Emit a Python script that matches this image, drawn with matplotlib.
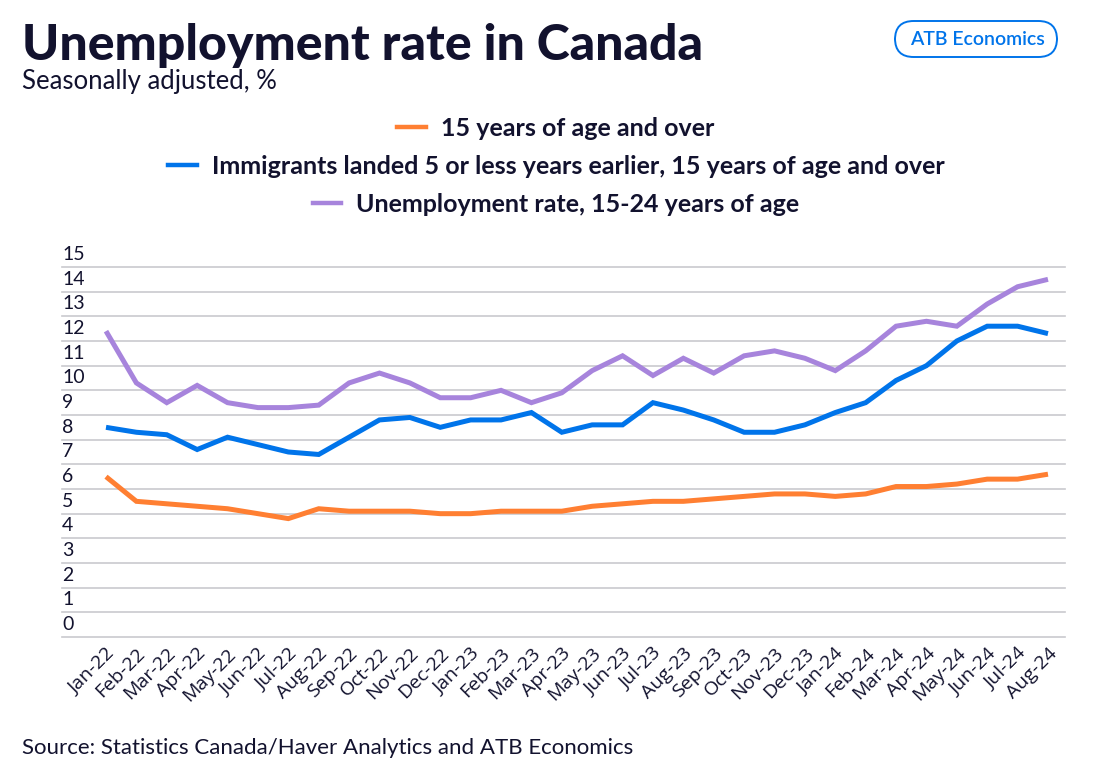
import matplotlib
matplotlib.use("Agg")
import matplotlib.pyplot as plt
import matplotlib.transforms as mtransforms
from matplotlib.lines import Line2D
from matplotlib.patches import FancyBboxPatch
import numpy as np

months = ["Jan-22", "Feb-22", "Mar-22", "Apr-22", "May-22", "Jun-22", "Jul-22", "Aug-22",
          "Sep-22", "Oct-22", "Nov-22", "Dec-22", "Jan-23", "Feb-23", "Mar-23", "Apr-23",
          "May-23", "Jun-23", "Jul-23", "Aug-23", "Sep-23", "Oct-23", "Nov-23", "Dec-23",
          "Jan-24", "Feb-24", "Mar-24", "Apr-24", "May-24", "Jun-24", "Jul-24", "Aug-24"]

all_15plus = [6.5, 5.5, 5.4, 5.3, 5.2, 5.0, 4.8, 5.2, 5.1, 5.1, 5.1, 5.0, 5.0, 5.1, 5.1, 5.1,
              5.3, 5.4, 5.5, 5.5, 5.6, 5.7, 5.8, 5.8, 5.7, 5.8, 6.1, 6.1, 6.2, 6.4, 6.4, 6.6]
immigrants = [8.5, 8.3, 8.2, 7.6, 8.1, 7.8, 7.5, 7.4, 8.1, 8.8, 8.9, 8.5, 8.8, 8.8, 9.1, 8.3,
              8.6, 8.6, 9.5, 9.2, 8.8, 8.3, 8.3, 8.6, 9.1, 9.5, 10.4, 11.0, 12.0, 12.6, 12.6, 12.3]
youth = [12.4, 10.3, 9.5, 10.2, 9.5, 9.3, 9.3, 9.4, 10.3, 10.7, 10.3, 9.7, 9.7, 10.0, 9.5, 9.9,
         10.8, 11.4, 10.6, 11.3, 10.7, 11.4, 11.6, 11.3, 10.8, 11.6, 12.6, 12.8, 12.6, 13.5, 14.2, 14.5]

series_names = ["15 years of age and over",
                "Immigrants landed 5 or less years earlier, 15 years of age and over",
                "Unemployment rate, 15-24 years of age"]
series_colors = ["#FF7F32", "#0074EA", "#A784DC"]
yticks = list(range(0, 16))

NAVY = "#12122e"
GRID = "#c9c9ce"

fig = plt.figure(figsize=(10.96, 7.75), dpi=100)
fig.patch.set_facecolor("white")

ax = fig.add_axes([62 / 1096, 1 - 637 / 775, (1065 - 62) / 1096, (637 - 267) / 775])
x = np.arange(len(months))
for vals, col in zip([all_15plus, immigrants, youth], series_colors):
    ax.plot(x, vals, color=col, lw=3.6, solid_joinstyle="miter", solid_capstyle="butt", zorder=3)

ax.set_xlim(-1.448, len(months) - 1 + 0.56)
ax.set_ylim(0, 15)
ax.set_yticks(yticks)
ax.set_yticklabels([str(t) for t in yticks])
ax.grid(axis="y", color=GRID, lw=1.2, zorder=0)
ax.grid(axis="x", visible=False)
for s in ax.spines.values():
    s.set_visible(False)
for gl in ax.get_ygridlines():
    gl.set_clip_on(False)

ax.tick_params(axis="y", length=0, pad=0, labelsize=14, labelcolor=NAVY)
offset = mtransforms.ScaledTranslation(0, 14 / 100, fig.dpi_scale_trans)
for lab in ax.get_yticklabels():
    lab.set_horizontalalignment("left")
    lab.set_fontfamily("Lato")
    lab.set_transform(lab.get_transform() + offset)

ax.set_xticks(x)
ax.set_xticklabels(months, rotation=45, ha="right", va="center", rotation_mode="anchor",
                   fontsize=14, color=NAVY, fontfamily="Open Sans")
ax.tick_params(axis="x", length=0, pad=10)
xoff = mtransforms.ScaledTranslation(6 / 100, 0, fig.dpi_scale_trans)
for lab in ax.get_xticklabels():
    lab.set_transform(lab.get_transform() + xoff)

# Title and subtitle
fig.text(22 / 1096, 1 - 60 / 775, "Unemployment rate in Canada", fontsize=36, fontweight="black",
         fontfamily="Lato", color=NAVY, ha="left", va="baseline")
fig.text(22 / 1096, 1 - 89 / 775, "Seasonally adjusted, %", fontsize=18.5,
         fontfamily="Lato", color=NAVY, ha="left", va="baseline")

# Badge
badge = FancyBboxPatch((895 / 1096, 1 - 57 / 775), (1057 - 895) / 1096, (57 - 21) / 775,
                       boxstyle="round,pad=0,rounding_size=0.017", transform=fig.transFigure,
                       facecolor="white", edgecolor="#0074EA", lw=1.4, mutation_aspect=1096 / 775)
fig.patches.append(badge)
fig.text(977 / 1096, 1 - 39.5 / 775, "ATB Economics", fontsize=14, fontweight="semibold",
         fontfamily="Lato", color="#0074EA", ha="center", va="center")

# Legend: each row centred separately
row_y = [128, 166, 204]
for name, col, yy in zip(series_names, series_colors, row_y):
    h = Line2D([0], [0], color=col, lw=3.2)
    leg = fig.legend([h], [name], loc="center", bbox_to_anchor=(556 / 1096, 1 - yy / 775),
                     frameon=False, handlelength=1.15, handletextpad=0.6, borderpad=0,
                     prop={"family": "Lato", "weight": "bold", "size": 18})
    for t in leg.get_texts():
        t.set_color(NAVY)

fig.text(22 / 1096, 1 - 754 / 775, "Source: Statistics Canada/Haver Analytics and ATB Economics",
         fontsize=16, fontfamily="Lato", color=NAVY, ha="left", va="baseline")

fig.savefig("out.png", dpi=100, facecolor="white")
